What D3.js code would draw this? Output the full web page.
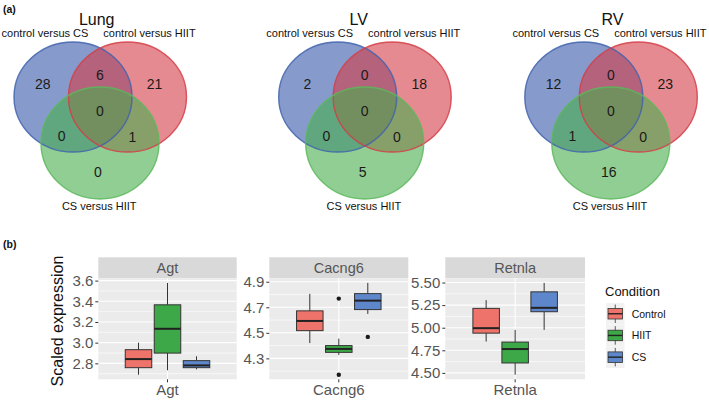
<!DOCTYPE html>
<html>
<head>
<meta charset="utf-8">
<script src="https://cdn.jsdelivr.net/npm/d3@7"></script>
<style>
  html, body { margin: 0; padding: 0; background: #fff; }
  svg { display: block; font-family: "Liberation Sans", Arial, sans-serif; }
</style>
</head>
<body>
<svg id="chart" width="709" height="400"></svg>
<script>
// ---------------- DATA ----------------
// Venn diagrams (panel a)
const vennTitles = ["Lung", "LV", "RV"];
const vennSets = ["control versus CS", "control versus HIIT", "CS versus HIIT"];
// region order: only CS, only HIIT, only CSvsHIIT, CS∩HIIT, CS∩CSvsHIIT, HIIT∩CSvsHIIT, all three
const vennRegions = ["A", "B", "C", "AB", "AC", "BC", "ABC"];
const lungCounts = [28, 21, 0, 6, 0, 1, 0];
const lvCounts   = [2, 18, 5, 0, 0, 0, 0];
const rvCounts   = [12, 23, 16, 0, 1, 0, 0];

// Box plots (panel b)
const genes = ["Agt", "Cacng6", "Retnla"];
const conditions = ["Control", "HIIT", "CS"];
// [min whisker, Q1, median, Q3, max whisker] per condition
const agtStats = [
  [2.69, 2.758, 2.841, 2.932, 3.00],
  [2.733, 2.899, 3.134, 3.366, 3.578],
  [2.742, 2.758, 2.78, 2.826, 2.868]
];
const cacng6Stats = [
  [4.42, 4.517, 4.593, 4.672, 4.805],
  [4.327, 4.347, 4.374, 4.40, 4.454],
  [4.648, 4.682, 4.752, 4.807, 4.891]
];
const retnlaStats = [
  [4.847, 4.94, 4.995, 5.214, 5.305],
  [4.48, 4.61, 4.764, 4.841, 4.976],
  [4.976, 5.177, 5.22, 5.397, 5.496]
];
const agtOutliers = [[], [], []];
const cacng6Outliers = [[], [4.768, 4.172], [4.468]];
const retnlaOutliers = [[], [], []];
const agtTicks = [2.8, 3.0, 3.2, 3.4, 3.6];
const cacng6Ticks = [4.3, 4.5, 4.7, 4.9];
const retnlaTicks = [4.50, 4.75, 5.00, 5.25, 5.50];
const agtTickLabels = ["2.8", "3.0", "3.2", "3.4", "3.6"];
const cacng6TickLabels = ["4.3", "4.5", "4.7", "4.9"];
const retnlaTickLabels = ["4.50", "4.75", "5.00", "5.25", "5.50"];

// ---------------- STYLE / LAYOUT ----------------
const FONT = '"Liberation Sans", Arial, sans-serif';
const svg = d3.select("#chart");

const vennFill = ["#3658a8", "#d63c47", "#48ae4c"];
const vennStroke = ["#4062ad", "#d43d46", "#5cb85c"];
const vennCx = [73, 337.7, 583.8];     // blue ellipse centre x per diagram
const vennTitleX = [96.7, 358.7, 612.5];
const vennCy = 97;
const rx = 59, ry = 55;
// ellipse offsets relative to blue centre
const ellOff = [[0, 0], [54.5, 0], [27, 46]];
// region label offsets relative to blue centre
const regionOff = {
  A: [-30.3, -13.5], B: [81.5, -13.5], C: [25, 75],
  AB: [27, -22.5], AC: [-11.3, 38.5], BC: [59.3, 40], ABC: [27, 13.5]
};

svg.append("text").attr("x", 3).attr("y", 13).attr("font-size", 10.5)
  .attr("font-weight", "bold").attr("fill", "#111").text("(a)");
svg.append("text").attr("x", 3).attr("y", 248).attr("font-size", 10.5)
  .attr("font-weight", "bold").attr("fill", "#111").text("(b)");

const allCounts = [lungCounts, lvCounts, rvCounts];
vennTitles.forEach((title, i) => {
  const cx = vennCx[i];
  const g = svg.append("g");
  g.append("text").attr("x", vennTitleX[i]).attr("y", 25).attr("text-anchor", "middle")
    .attr("font-size", 16).attr("fill", "#111").text(title);
  g.append("text").attr("x", cx - 28).attr("y", 37).attr("text-anchor", "middle")
    .attr("font-size", 11).attr("fill", "#111").text(vennSets[0]);
  g.append("text").attr("x", cx + 76.5).attr("y", 37).attr("text-anchor", "middle")
    .attr("font-size", 11).attr("fill", "#111").text(vennSets[1]);
  g.append("text").attr("x", cx + 26.2).attr("y", 210).attr("text-anchor", "middle")
    .attr("font-size", 11).attr("fill", "#111").text(vennSets[2]);
  const ells = vennSets.map((s, k) => ({ k, x: cx + ellOff[k][0], y: vennCy + ellOff[k][1] }));
  g.selectAll("ellipse.fill").data(ells).join("ellipse").attr("class", "fill")
    .attr("cx", d => d.x).attr("cy", d => d.y).attr("rx", rx).attr("ry", d => d.k === 2 ? 56 : ry)
    .attr("fill", d => vennFill[d.k]).attr("fill-opacity", 0.6).attr("stroke", "none");
  g.selectAll("ellipse.edge").data(ells).join("ellipse").attr("class", "edge")
    .attr("cx", d => d.x).attr("cy", d => d.y).attr("rx", rx).attr("ry", d => d.k === 2 ? 56 : ry)
    .attr("fill", "none").attr("stroke", d => vennStroke[d.k]).attr("stroke-width", 1.4)
    .attr("stroke-opacity", 0.85);
  g.selectAll("text.cnt").data(vennRegions).join("text").attr("class", "cnt")
    .attr("x", r => cx + regionOff[r][0]).attr("y", r => vennCy + regionOff[r][1])
    .attr("dy", "0.36em").attr("text-anchor", "middle").attr("font-size", 14)
    .attr("fill", "#1a1a1a").text((r, j) => allCounts[i][j]);
});

// ---------------- BOX PLOTS ----------------
const boxColors = ["#EE736B", "#3DA847", "#5E87CB"];
const panelX = [[98.3, 236.7], [269.3, 408.3], [445.3, 585]];
const stripTop = 257.3, panelTop = 278.3, panelBottom = 379.3;
const statsAll = [agtStats, cacng6Stats, retnlaStats];
const outAll = [agtOutliers, cacng6Outliers, retnlaOutliers];
const ticksAll = [agtTicks, cacng6Ticks, retnlaTicks];
const tickLabAll = [agtTickLabels, cacng6TickLabels, retnlaTickLabels];
const boxW = 26.5;

genes.forEach((gene, i) => {
  const [x0, x1] = panelX[i];
  const cxp = (x0 + x1) / 2;
  const stats = statsAll[i];
  const outs = outAll[i];
  const allVals = stats.flat().concat(outs.flat());
  const ext = d3.extent(allVals);
  const pad = (ext[1] - ext[0]) * 0.05;
  const y = d3.scaleLinear().domain([ext[0] - pad, ext[1] + pad]).range([panelBottom, panelTop]);
  const x = d3.scalePoint().domain(conditions).range([cxp - 29, cxp + 29]);
  const xg = d3.scaleBand().domain([gene]).range([x0, x1]);
  const g = svg.append("g");

  // strip
  g.append("rect").attr("x", x0).attr("y", stripTop).attr("width", x1 - x0)
    .attr("height", panelTop - stripTop).attr("fill", "#D9D9D9");
  g.append("text").attr("x", cxp).attr("y", (stripTop + panelTop) / 2).attr("dy", "0.36em")
    .attr("text-anchor", "middle").attr("font-size", 14.5).attr("fill", "#555").text(gene);
  // panel bg
  g.append("rect").attr("x", x0).attr("y", panelTop).attr("width", x1 - x0)
    .attr("height", panelBottom - panelTop).attr("fill", "#EBEBEB");
  // minor grid
  const ticks = ticksAll[i];
  const step = ticks[1] - ticks[0];
  const minors = [];
  for (let k = -1; k < ticks.length; k++) {
    const v = ticks[0] + (k + 0.5) * step;
    if (v > y.domain()[0] && v < y.domain()[1]) minors.push(v);
  }
  g.selectAll("line.minor").data(minors).join("line").attr("class", "minor")
    .attr("x1", x0).attr("x2", x1).attr("y1", d => y(d)).attr("y2", d => y(d))
    .attr("stroke", "#fff").attr("stroke-width", 0.6);
  g.selectAll("line.major").data(ticks).join("line").attr("class", "major")
    .attr("x1", x0).attr("x2", x1).attr("y1", d => y(d)).attr("y2", d => y(d))
    .attr("stroke", "#fff").attr("stroke-width", 1.1);
  g.append("line").attr("x1", xg(gene) + xg.bandwidth() / 2).attr("x2", xg(gene) + xg.bandwidth() / 2)
    .attr("y1", panelTop).attr("y2", panelBottom).attr("stroke", "#fff").attr("stroke-width", 1.1);

  // y axis
  const ya = g.append("g").attr("transform", `translate(${x0},0)`)
    .call(d3.axisLeft(y).tickValues(ticks).tickSize(3).tickPadding(2)
      .tickFormat((d, j) => tickLabAll[i][j]));
  ya.select(".domain").remove();
  ya.selectAll(".tick line").attr("stroke", "#333");
  ya.selectAll(".tick text").attr("font-size", 15).attr("fill", "#555").attr("font-family", FONT);

  // x axis
  const xa = g.append("g").attr("transform", `translate(0,${panelBottom})`)
    .call(d3.axisBottom(xg).tickSize(3).tickPadding(2));
  xa.select(".domain").remove();
  xa.selectAll(".tick line").attr("stroke", "#333");
  xa.selectAll(".tick text").attr("font-size", 15).attr("fill", "#555").attr("font-family", FONT);

  // boxes
  const bg = g.selectAll("g.box").data(conditions).join("g").attr("class", "box");
  bg.append("line").attr("x1", c => x(c)).attr("x2", c => x(c))
    .attr("y1", (c, j) => y(stats[j][0])).attr("y2", (c, j) => y(stats[j][1]))
    .attr("stroke", "#333").attr("stroke-width", 1);
  bg.append("line").attr("x1", c => x(c)).attr("x2", c => x(c))
    .attr("y1", (c, j) => y(stats[j][3])).attr("y2", (c, j) => y(stats[j][4]))
    .attr("stroke", "#333").attr("stroke-width", 1);
  bg.append("rect").attr("x", c => x(c) - boxW / 2).attr("width", boxW)
    .attr("y", (c, j) => y(stats[j][3])).attr("height", (c, j) => y(stats[j][1]) - y(stats[j][3]))
    .attr("fill", (c, j) => boxColors[j]).attr("stroke", "#333").attr("stroke-width", 1);
  bg.append("line").attr("x1", c => x(c) - boxW / 2).attr("x2", c => x(c) + boxW / 2)
    .attr("y1", (c, j) => y(stats[j][2])).attr("y2", (c, j) => y(stats[j][2]))
    .attr("stroke", "#222").attr("stroke-width", 2);
  bg.each(function (c, j) {
    d3.select(this).selectAll("circle").data(outs[j]).join("circle")
      .attr("cx", x(c)).attr("cy", d => y(d)).attr("r", 2.2).attr("fill", "#1a1a1a");
  });
});

// y title
svg.append("text").attr("transform", "translate(63,321) rotate(-90)")
  .attr("text-anchor", "middle").attr("font-size", 16).attr("fill", "#111").text("Scaled expression");

// legend
svg.append("text").attr("x", 605).attr("y", 296).attr("font-size", 13).attr("fill", "#111").text("Condition");
const lg = svg.selectAll("g.leg").data(conditions).join("g").attr("class", "leg")
  .attr("transform", (d, j) => `translate(606,${303 + j * 21.7})`);
lg.append("rect").attr("width", 18.5).attr("height", 21.7).attr("fill", "#F2F2F2");
lg.append("line").attr("x1", 9.25).attr("x2", 9.25).attr("y1", 1.5).attr("y2", 20)
  .attr("stroke", "#333").attr("stroke-width", 0.8);
lg.append("rect").attr("x", 2).attr("y", 5.5).attr("width", 14.5).attr("height", 10.5)
  .attr("fill", (d, j) => boxColors[j]).attr("stroke", "#333").attr("stroke-width", 0.8);
lg.append("line").attr("x1", 2).attr("x2", 16.5).attr("y1", 10.75).attr("y2", 10.75)
  .attr("stroke", "#222").attr("stroke-width", 1.4);
lg.append("text").attr("x", 25.7).attr("y", 10.85).attr("dy", "0.36em")
  .attr("font-size", 10.5).attr("fill", "#111").text(d => d);
</script>
</body>
</html>
